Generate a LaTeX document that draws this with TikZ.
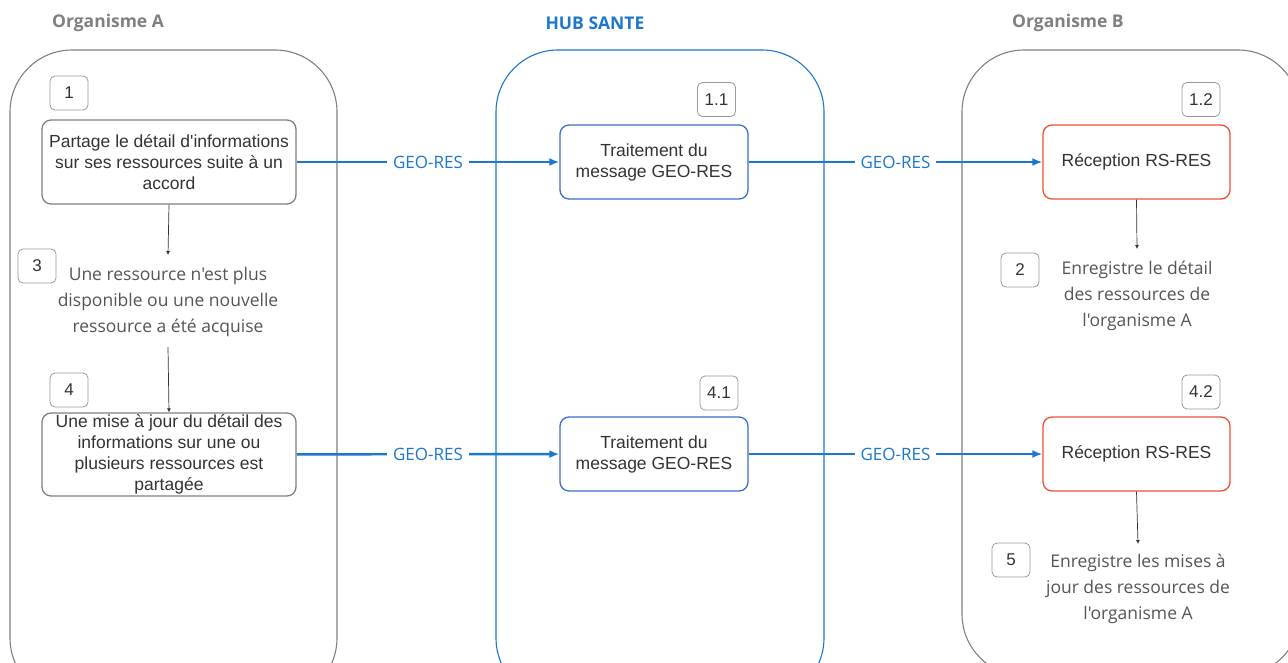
\documentclass[tikz,border=0pt]{standalone}
\usepackage{fontspec}
\setmainfont{Liberation Sans}
\newfontfamily\opensans{Open Sans}
\usepackage{xcolor}
\usetikzlibrary{arrows.meta,positioning,calc}
\definecolor{lanegray}{RGB}{128,128,128}
\definecolor{hubblue}{RGB}{28,120,204}
\definecolor{msgblue}{RGB}{58,110,200}
\definecolor{recvred}{RGB}{240,80,50}
\definecolor{textdark}{RGB}{51,51,51}
\definecolor{freegray}{RGB}{85,85,85}

\tikzset{
  lane/.style={draw=lanegray,line width=1.1pt,rounded corners=62pt},
  stepbox/.style={draw=#1,line width=1.3pt,rounded corners=9pt,align=center,text=textdark,font=\fontsize{17.5}{21}\selectfont,inner sep=0pt},
  numbox/.style={draw=lanegray!80,line width=0.8pt,rounded corners=5pt,minimum width=38pt,minimum height=34pt,inner sep=0pt,text=textdark,font=\fontsize{17}{18}\selectfont},
  freetext/.style={align=center,text=freegray,font=\opensans\fontsize{17.5}{26}\selectfont,inner sep=0pt},
  lanetitle/.style={font=\opensans\bfseries\fontsize{17.5}{18}\selectfont},
  msg/.style={-{Latex[length=10pt,width=8pt]},draw=hubblue,line width=2.4pt},
  msglabel/.style={fill=white,text=hubblue,font=\opensans\fontsize{17}{18}\selectfont,inner xsep=6pt},
  flow/.style={-{Latex[length=4pt,width=4pt]},draw=textdark,line width=0.7pt}
}

\begin{document}
\begin{tikzpicture}[x=1pt,y=-1pt]
\clip (0,0) rectangle (1288,662);
% swimlanes
\draw[lane] (10,50) rectangle (337,700);
\draw[lane,draw=hubblue] (496,50) rectangle (824,700);
\draw[lane] (962,50) rectangle (1300,676);
\node[lanetitle,text=lanegray] (titleA) at (108,23) {Organisme A};
\node[lanetitle,text=hubblue] (titleHub) at (595,23) {HUB SANTE};
\node[lanetitle,text=lanegray] (titleB) at (1068,23) {Organisme B};

% organisme A
\node[stepbox=lanegray,minimum width=254pt,minimum height=84pt] (share) at (169,162) {Partage le détail d\textquotesingle informations\\sur ses ressources suite à un\\accord};
\node[numbox] (n1) at (69,93) {1};
\node[freetext] (unavail) at (168,302) {Une ressource n'est plus\\disponible ou une nouvelle\\ressource a été acquise};
\node[numbox] (n3) at (37,266) {3};
\node[stepbox=lanegray,minimum width=254pt,minimum height=83pt] (update) at (169,454.5) {Une mise à jour du détail des\\informations sur une ou\\plusieurs ressources est\\partagée};
\node[numbox] (n4) at (69,390) {4};

% hub sante
\node[stepbox=msgblue,minimum width=188pt,minimum height=74pt] (proc1) at (654,162) {Traitement du\\message GEO-RES};
\node[numbox] (n11) at (716.5,99.5) {1.1};
\node[stepbox=msgblue,minimum width=188pt,minimum height=74pt] (proc4) at (654,454) {Traitement du\\message GEO-RES};
\node[numbox] (n41) at (719,393) {4.1};

% organisme B
\node[stepbox=recvred,minimum width=187pt,minimum height=74pt] (recv1) at (1136.5,162) {Réception RS-RES};
\node[numbox] (n12) at (1201,99.5) {1.2};
\node[freetext] (store1) at (1137,296) {Enregistre le détail\\des ressources de\\l'organisme A};
\node[numbox] (n2) at (1020,270) {2};
\node[stepbox=recvred,minimum width=187pt,minimum height=74pt] (recv4) at (1136.5,454) {Réception RS-RES};
\node[numbox] (n42) at (1201,392) {4.2};
\node[freetext] (store4) at (1138,589) {Enregistre les mises à\\jour des ressources de\\l'organisme A};
\node[numbox] (n5) at (1011,560) {5};

% connectors
\draw[msg] (share) -- node[msglabel] {GEO-RES} (proc1);
\draw[msg] (proc1) -- node[msglabel] {GEO-RES} (recv1);
\draw[msg] (update) -- node[msglabel] {GEO-RES} (proc4);
\draw[msg] (proc4) -- node[msglabel] {GEO-RES} (recv4);
\draw[flow] (share.south) -- ([yshift=12pt]unavail.north);
\draw[flow] ([yshift=-10pt]unavail.south) -- (update.north);
\draw[flow] (recv1.south) -- ([yshift=12pt]store1.north);
\draw[flow] (recv4.south) -- ([yshift=10pt]store4.north);
\end{tikzpicture}
\end{document}
